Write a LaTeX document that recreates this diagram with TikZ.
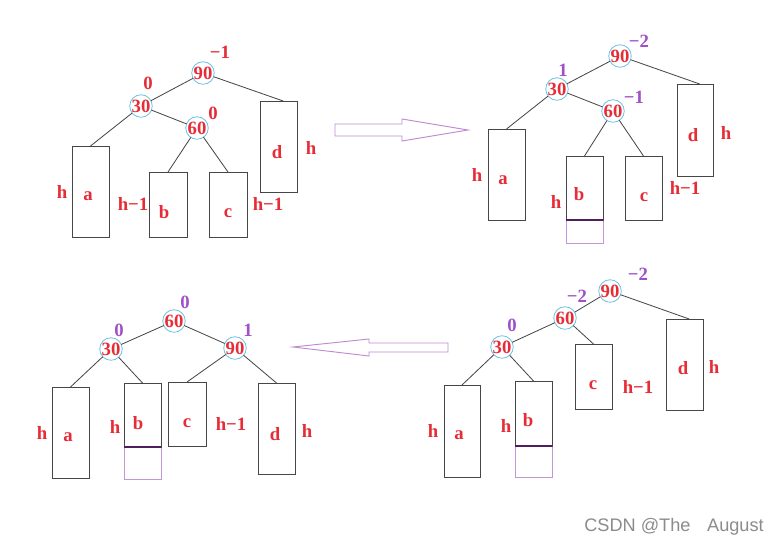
\documentclass[tikz,border=0pt]{standalone}
\usepackage{fontspec}
\setmainfont{Liberation Serif}
\newfontfamily\wmfont{Liberation Sans}
\usetikzlibrary{fit}
\definecolor{txtred}{RGB}{230,45,55}
\definecolor{bfpurple}{RGB}{160,80,200}
\definecolor{cirblue}{RGB}{110,195,230}
\definecolor{boxgray}{RGB}{70,70,70}
\definecolor{extpurple}{RGB}{195,150,215}
\definecolor{darkpurple}{RGB}{80,30,90}
\definecolor{arrpurple}{RGB}{190,140,210}
\definecolor{edgegray}{RGB}{70,70,70}
\definecolor{wmgray}{RGB}{140,140,140}
\begin{document}
\begin{tikzpicture}[x=0.03cm,y=-0.03cm,
  every node/.style={inner sep=0pt, outer sep=0pt},
  lbl/.style={text=txtred, font=\fontsize{16}{16}\selectfont\bfseries},
  bf/.style={text=bfpurple, font=\fontsize{16}{16}\selectfont\bfseries},
  circ/.style={circle, draw=cirblue, line width=0.7pt, minimum size=0.66cm, text=txtred, font=\fontsize{16}{16}\selectfont\bfseries},
  box/.style={draw=boxgray, line width=0.8pt, inner sep=0pt},
  ext/.style={draw=extpurple, line width=0.8pt, inner sep=0pt},
  sep/.style={draw=darkpurple, line width=1.2pt},
  edge/.style={draw=edgegray, line width=0.7pt},
  bigarrow/.style={draw=arrpurple, line width=0.8pt, line join=miter}
]
\useasboundingbox[fill=white] (0,0) rectangle (781,547);

% ================= Quadrant 1 (top-left) =================
\node[circ] (q1n90) at (203,73) {90};
\node[circ] (q1n30) at (141,106) {30};
\node[circ] (q1n60) at (197,128) {60};
\node[lbl] (q1b90) at (220,52) {−1};
\node[lbl] (q1b30) at (148,83) {0};
\node[lbl] (q1b60) at (213,113) {0};
\node[box, fit={(72,146)(109,237)}] (q1a) {};
\node[box, fit={(149,172)(187,237)}] (q1b) {};
\node[box, fit={(209,172)(247,237)}] (q1c) {};
\node[box, fit={(260,101)(297,192)}] (q1d) {};
\draw[edge] (q1n90) -- (q1n30);
\draw[edge] (q1n90) -- ([xshift=4]q1d.north);
\draw[edge] (q1n30) -- (q1n60);
\draw[edge] (q1n30) -- (q1a.north);
\draw[edge] (q1n60) -- (q1b.north);
\draw[edge] (q1n60) -- (q1c.north);
\node[lbl] (q1ta) at (88,196) {a};
\node[lbl] (q1tb) at (164,212) {b};
\node[lbl] (q1tc) at (228,213) {c};
\node[lbl] (q1td) at (277,152) {d};
\node[lbl] (q1ha) at (62,192) {h};
\node[lbl] (q1hb) at (133,204) {h−1};
\node[lbl] (q1hc) at (268,204) {h−1};
\node[lbl] (q1hd) at (311,148) {h};

% arrow right
\draw[bigarrow] (335,124) -- (402,124) -- (402,119) -- (468,130) -- (402,141) -- (402,136) -- (335,136) -- cycle;

% ================= Quadrant 2 (top-right) =================
\node[circ] (q2n90) at (620,56) {90};
\node[circ] (q2n30) at (557,89) {30};
\node[circ] (q2n60) at (613,111) {60};
\node[bf] (q2b90) at (639,41) {−2};
\node[bf] (q2b30) at (563,70) {1};
\node[bf] (q2b60) at (634,97) {−1};
\node[box, fit={(488,129)(525,220)}] (q2a) {};
\node[ext, fit={(566,220)(603,243)}] (q2e) {};
\node[box, fit={(566,156)(603,220)}] (q2b) {};
\node[box, fit={(625,156)(662,220)}] (q2c) {};
\node[box, fit={(677,84)(713,176)}] (q2d) {};
\draw[sep] (q2b.south west) -- (q2b.south east);
\draw[edge] (q2n90) -- (q2n30);
\draw[edge] (q2n90) -- ([xshift=4]q2d.north);
\draw[edge] (q2n30) -- (q2n60);
\draw[edge] (q2n30) -- (q2a.north);
\draw[edge] (q2n60) -- (q2b.north);
\draw[edge] (q2n60) -- (q2c.north);
\node[lbl] (q2ta) at (503,180) {a};
\node[lbl] (q2tb) at (579,194) {b};
\node[lbl] (q2tc) at (644,197) {c};
\node[lbl] (q2td) at (693,135) {d};
\node[lbl] (q2ha) at (477,175) {h};
\node[lbl] (q2hb) at (556,202) {h};
\node[lbl] (q2hc) at (685,188) {h−1};
\node[lbl] (q2hd) at (726,133) {h};

% ================= Quadrant 4 (bottom-right) =================
\node[circ] (q4n90) at (610,291) {90};
\node[circ] (q4n60) at (565,318) {60};
\node[circ] (q4n30) at (502,347) {30};
\node[bf] (q4b90) at (638,274) {−2};
\node[bf] (q4b60) at (577,296) {−2};
\node[bf] (q4b30) at (512,325) {0};
\node[box, fit={(444,385)(480,477)}] (q4a) {};
\node[ext, fit={(515,446)(552,477)}] (q4e) {};
\node[box, fit={(515,381)(552,446)}] (q4b) {};
\node[box, fit={(575,344)(612,409)}] (q4c) {};
\node[box, fit={(666,319)(703,410)}] (q4d) {};
\draw[sep] (q4b.south west) -- (q4b.south east);
\draw[edge] (q4n90) -- (q4n60);
\draw[edge] (q4n90) -- ([xshift=4]q4d.north);
\draw[edge] (q4n60) -- (q4n30);
\draw[edge] (q4n60) -- (q4c.north);
\draw[edge] (q4n30) -- (q4a.north);
\draw[edge] (q4n30) -- (q4b.north);
\node[lbl] (q4ta) at (459,435) {a};
\node[lbl] (q4tb) at (528,420) {b};
\node[lbl] (q4tc) at (593,385) {c};
\node[lbl] (q4td) at (683,368) {d};
\node[lbl] (q4ha) at (433,431) {h};
\node[lbl] (q4hb) at (506,426) {h};
\node[lbl] (q4hc) at (638,387) {h−1};
\node[lbl] (q4hd) at (714,367) {h};

% arrow left
\draw[bigarrow] (448,343) -- (369,343) -- (369,339) -- (293,347) -- (369,356) -- (369,352) -- (448,352) -- cycle;

% ================= Quadrant 3 (bottom-left) =================
\node[circ] (q3n60) at (174,321) {60};
\node[circ] (q3n30) at (111,349) {30};
\node[circ] (q3n90) at (235,348) {90};
\node[bf] (q3b60) at (185,302) {0};
\node[bf] (q3b30) at (119,330) {0};
\node[bf] (q3b90) at (248,330) {1};
\node[box, fit={(52,387)(89,478)}] (q3a) {};
\node[ext, fit={(124,447)(161,479)}] (q3e) {};
\node[box, fit={(124,383)(161,447)}] (q3b) {};
\node[box, fit={(168,382)(206,446)}] (q3c) {};
\node[box, fit={(258,383)(295,474)}] (q3d) {};
\draw[sep] (q3b.south west) -- (q3b.south east);
\draw[edge] (q3n60) -- (q3n30);
\draw[edge] (q3n60) -- (q3n90);
\draw[edge] (q3n30) -- (q3a.north);
\draw[edge] (q3n30) -- (q3b.north);
\draw[edge] (q3n90) -- (q3c.north);
\draw[edge] (q3n90) -- (q3d.north);
\node[lbl] (q3ta) at (68,437) {a};
\node[lbl] (q3tb) at (138,423) {b};
\node[lbl] (q3tc) at (187,423) {c};
\node[lbl] (q3td) at (275,434) {d};
\node[lbl] (q3ha) at (42,433) {h};
\node[lbl] (q3hb) at (115,427) {h};
\node[lbl] (q3hc) at (231,424) {h−1};
\node[lbl] (q3hd) at (307,431) {h};

% watermark
\node[text=wmgray, font=\wmfont\fontsize{15.5}{15.5}\selectfont] (wm) at (674,527) {CSDN @The\hspace{0.5cm}August};
\end{tikzpicture}
\end{document}
